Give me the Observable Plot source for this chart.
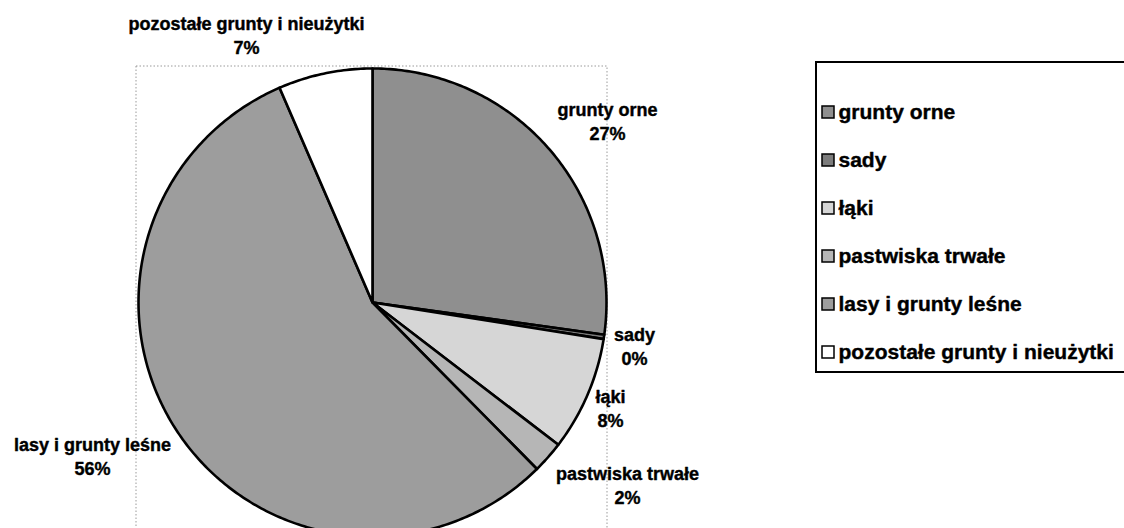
<!DOCTYPE html>
<html><head><meta charset="utf-8">
<script src="https://cdn.jsdelivr.net/npm/d3@7"></script>
<script src="https://cdn.jsdelivr.net/npm/@observablehq/plot@0.6"></script>
<style>body{margin:0;background:#fff;overflow:hidden}</style>
</head><body><div id="chart"></div>
<script>
// ---- data ----
const categories = ["grunty orne","sady","łąki","pastwiska trwałe","lasy i grunty leśne","pozostałe grunty i nieużytki"];
const shares = [27.2, 0.3, 7.9, 2.2, 55.9, 6.5];
const percentLabels = ["27%","0%","8%","2%","56%","7%"];

// ---- styles / layout ----
const fills = ["#8f8f8f","#7c7c7c","#d6d6d6","#b6b6b6","#9d9d9d","#ffffff"];
const W = 1124, H = 528, cx = 372, cy = 302, R = 234;
const labelCenters = [[607,120],[634,345],[610,407],[627,484],[92,455],[246,34]];
const legend = {x1: 816, x2: 1140, y1: 62, y2: 372, row0: 112, step: 48, sw: 12, sx: 822, tx: 838};

const arcs = d3.pie().sort(null).value(d => d)(shares);
const polys = arcs.map((a, i) => {
  const n = Math.max(2, Math.ceil((a.endAngle - a.startAngle) * 80));
  const pts = [{x: cx, y: cy}];
  for (let k = 0; k <= n; k++) {
    const t = a.startAngle + (a.endAngle - a.startAngle) * k / n;
    pts.push({x: cx + R * Math.sin(t), y: cy - R * Math.cos(t)});
  }
  pts.push({x: cx, y: cy});
  return pts;
});

const labels = categories.map((c, i) => ({name: c, pct: percentLabels[i], x: labelCenters[i][0], y: labelCenters[i][1]}));
const legendRows = categories.map((c, i) => ({name: c, i, y: legend.row0 + i * legend.step}));

const marks = [
  Plot.rect([0], {x1: 136, x2: 607, y1: 66, y2: 560, fill: "none", stroke: "#9a9a9a", strokeWidth: 1, strokeDasharray: "1.5,2"}),
  ...polys.map((p, i) => Plot.line(p, {x: "x", y: "y", fill: fills[i], stroke: "#000", strokeWidth: 2.6, strokeLinejoin: "round"})),
  Plot.text(labels, {x: "x", y: "y", text: d => d.name + "\n" + d.pct, fontSize: 18, fontWeight: "bold", lineHeight: 1.33, fill: "#000", stroke: "#000", strokeWidth: 0.4}),
  Plot.rect([0], {x1: legend.x1, x2: legend.x2, y1: legend.y1, y2: legend.y2, fill: "none", stroke: "#000", strokeWidth: 2}),
  Plot.rect(legendRows, {x1: legend.sx, x2: legend.sx + legend.sw, y1: d => d.y - legend.sw / 2, y2: d => d.y + legend.sw / 2, fill: d => fills[d.i], stroke: "#000", strokeWidth: 1.5}),
  Plot.text(legendRows, {x: legend.tx, y: "y", text: "name", textAnchor: "start", fontSize: 21, fontWeight: "bold", fill: "#000", stroke: "#000", strokeWidth: 0.4})
];

const chart = Plot.plot({
  width: W, height: H, margin: 0,
  x: {domain: [0, W], range: [0, W], axis: null},
  y: {domain: [0, H], range: [0, H], axis: null},
  style: {fontFamily: "'Liberation Sans', Arial, sans-serif", background: "#fff"},
  marks
});
document.getElementById("chart").appendChild(chart);
</script>
</body></html>
